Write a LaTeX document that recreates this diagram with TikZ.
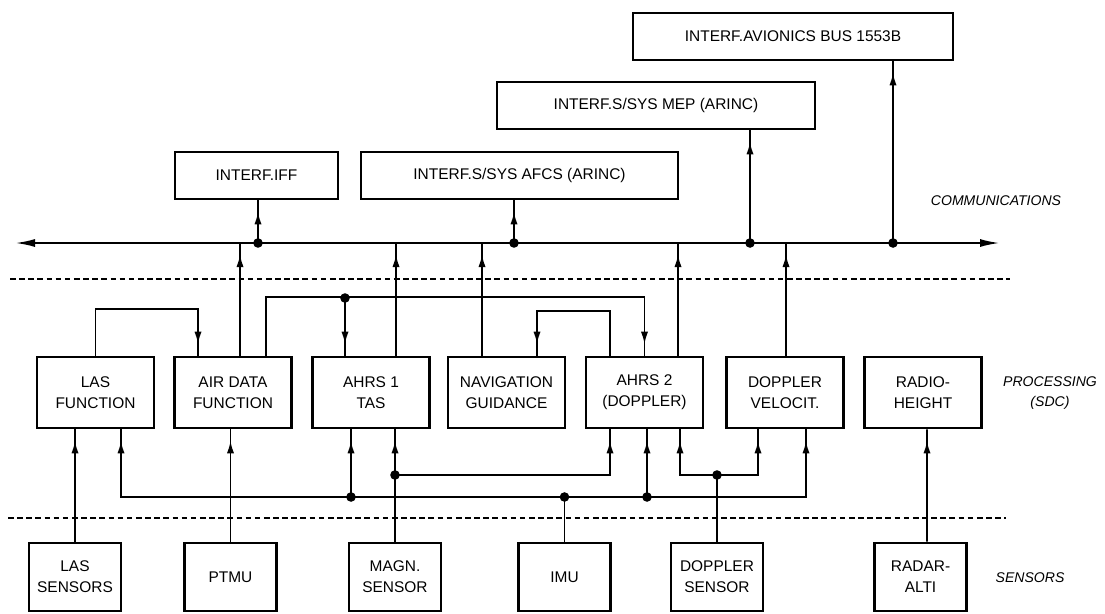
\documentclass[tikz,border=0pt]{standalone}
\usepackage{fontspec}
\setmainfont{Liberation Sans}
\usetikzlibrary{arrows.meta,positioning,calc,decorations.markings}
\tikzset{
  unit box/.style={draw,line width=1.9pt,align=center,inner sep=2pt,font=\fontsize{11}{15}\selectfont},
  interf box/.style={unit box,minimum height=1.175cm},
  proc box/.style={unit box,minimum width=2.925cm,minimum height=1.775cm},
  sensor box/.style={unit box,minimum width=2.3cm,minimum height=1.7cm},
  junction/.style={circle,fill,inner sep=0pt,minimum size=0.24cm},
  flow/.style={line width=1.4pt,postaction={decorate},decoration={markings,mark=at position -2.8mm with {\arrow{Latex[length=3.2mm,width=1.8mm]}}}},
  plain link/.style={line width=1.4pt},
  bus line/.style={line width=1.5pt,{Latex[length=5mm,width=2mm]}-{Latex[length=5mm,width=2mm]}},
  layer line/.style={line width=1.1pt,dash pattern=on 4pt off 2.5pt},
  layer label/.style={font=\fontsize{10}{14}\selectfont\itshape,align=center}
}
\begin{document}
\begin{tikzpicture}[x=0.025cm,y=-0.025cm]
  \useasboundingbox (0,0) rectangle (1105,613);
  \node[interf box,minimum width=8cm] (avionics) at (793,36.5) {INTERF.AVIONICS BUS 1553B};
  \node[interf box,minimum width=7.95cm] (mep) at (656,105.5) {INTERF.S/SYS MEP (ARINC)};
  \node[interf box,minimum width=4.075cm] (iff) at (256.5,175.5) {INTERF.IFF};
  \node[interf box,minimum width=7.925cm] (afcs) at (519.5,175.5) {INTERF.S/SYS AFCS (ARINC)};

  \node[proc box] (lasf) at (95.5,392.5) {LAS\\FUNCTION};
  \node[proc box] (adf) at (233,392.5) {AIR DATA\\FUNCTION};
  \node[proc box] (ahrs1) at (371,392.5) {AHRS 1\\TAS};
  \node[proc box] (nav) at (506.5,392.5) {NAVIGATION\\GUIDANCE};
  \node[proc box] (ahrs2) at (644.5,392.5) {AHRS 2\\(DOPPLER)};
  \node[proc box] (dvel) at (785,392.5) {DOPPLER\\VELOCIT.};
  \node[proc box] (radio) at (923,392.5) {RADIO-\\HEIGHT};

  \node[sensor box] (lass) at (75,577) {LAS\\SENSORS};
  \node[sensor box] (ptmu) at (230.5,577) {PTMU};
  \node[sensor box] (magn) at (395,577) {MAGN.\\SENSOR};
  \node[sensor box] (imu) at (564.5,577) {IMU};
  \node[sensor box] (dops) at (717,577) {DOPPLER\\SENSOR};
  \node[sensor box] (radar) at (920.5,577) {RADAR-\\ALTI};

  \node[layer label] (lblComm) at (996,201) {COMMUNICATIONS};
  \node[layer label] (lblProc) at (1050,393) {PROCESSING\\(SDC)};
  \node[layer label] (lblSens) at (1030,578) {SENSORS};

  \coordinate (commL) at (10,279);
  \coordinate (commR) at (1010,279);
  \coordinate (procL) at (8,518);
  \coordinate (procR) at (1006,518);
  \draw[layer line] (commL) -- (commR);
  \draw[layer line] (procL) -- (procR);

  \coordinate (busL) at (15,243);
  \coordinate (busR) at (1000,243);
  \draw[bus line] (busL) -- (busR);
  \coordinate (bAdf) at (240,243);
  \coordinate (bAhrsA) at (396,243);
  \coordinate (bNav) at (482,243);
  \coordinate (bAhrsB) at (678,243);
  \coordinate (bDvel) at (786,243);
  \draw[flow] (adf.north -| bAdf) -- (bAdf);
  \draw[flow] (ahrs1.north -| bAhrsA) -- (bAhrsA);
  \draw[flow] (nav.north -| bNav) -- (bNav);
  \draw[flow] (ahrs2.north -| bAhrsB) -- (bAhrsB);
  \draw[flow] (dvel.north -| bDvel) -- (bDvel);

  \node[junction] (jIff) at (258,243) {};
  \node[junction] (jAfcs) at (514,243) {};
  \node[junction] (jMep) at (750,243) {};
  \node[junction] (jAvio) at (893,243) {};
  \draw[flow] (jIff.center) -- (iff.south -| jIff);
  \draw[flow] (jAfcs.center) -- (afcs.south -| jAfcs);
  \draw[flow] (jMep.center) -- (mep.south -| jMep);
  \draw[flow] (jAvio.center) -- (avionics.south -| jAvio);

  \draw[flow] (lasf.north) -- ++(0,-47) -| ($(adf.north)+(-35,0)$);
  \draw[flow] ($(adf.north)+(33,0)$) -- ++(0,-59) -| (ahrs2.north);
  \node[junction] (jAtt) at (345,298) {};
  \draw[flow] (jAtt.center) -- (ahrs1.north -| jAtt);
  \draw[flow] ($(ahrs2.north)+(-34.5,0)$) -- ++(0,-45) -| ($(nav.north)+(30.5,0)$);

  \node[junction] (jImu) at (564.5,497) {};
  \node[junction] (jImuA) at (351,497) {};
  \node[junction] (jImuB) at (647,497) {};
  \draw[plain link] (imu.north) -- (jImu.center);
  \draw[flow] (jImu.center) -| ($(lasf.south)+(25.5,0)$);
  \draw[flow] (jImu.center) -| ($(dvel.south)+(21,0)$);
  \draw[flow] (jImuA.center) -- (ahrs1.south -| jImuA);
  \draw[flow] (jImuB.center) -- (ahrs2.south -| jImuB);

  \node[junction] (jMagn) at (395,475) {};
  \draw[flow] (magn.north) -- (ahrs1.south -| magn.north);
  \draw[flow] (jMagn.center) -| ($(ahrs2.south)+(-34.5,0)$);

  \node[junction] (jDop) at (717,475) {};
  \draw[plain link] (dops.north) -- (jDop.center);
  \draw[flow] (jDop.center) -| ($(ahrs2.south)+(35.5,0)$);
  \draw[flow] (jDop.center) -| ($(dvel.south)+(-27,0)$);

  \draw[flow] (lass.north) -- (lasf.south -| lass.north);
  \draw[flow] (ptmu.north) -- (adf.south -| ptmu.north);
  \draw[flow] ($(radar.north)+(6.5,0)$) -- ($(radio.south)+(4,0)$);
\end{tikzpicture}
\end{document}
